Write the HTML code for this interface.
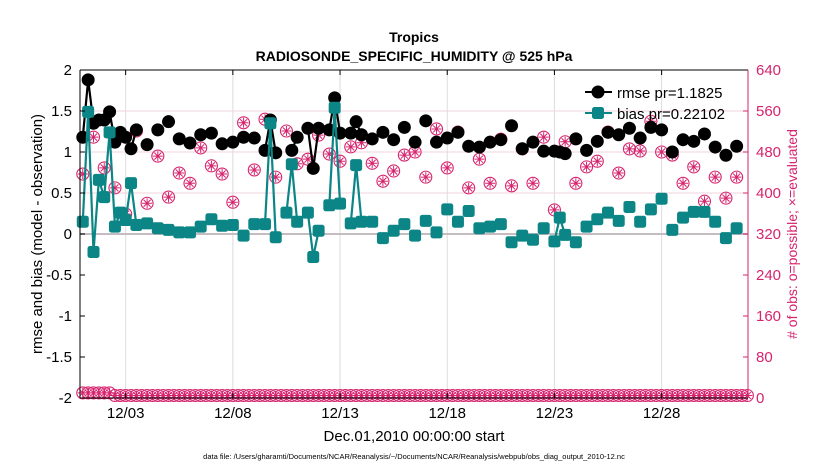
<!DOCTYPE html>
<html><head><meta charset="utf-8"><style>
body{margin:0;background:#fff;width:830px;height:470px;overflow:hidden;font-family:"Liberation Sans",Arial,sans-serif}
</style></head><body>
<svg id="chart" width="830" height="470" xmlns="http://www.w3.org/2000/svg" font-family="Liberation Sans, Arial, sans-serif">
<text x="414" y="42" text-anchor="middle" font-size="14" font-weight="bold">Tropics</text>
<text x="414" y="61" text-anchor="middle" font-size="14" font-weight="bold">RADIOSONDE_SPECIFIC_HUMIDITY @ 525 hPa</text>
<g id="grid"></g>
<g id="series"></g>
<g id="axes"></g>
<text transform="translate(42,234) rotate(-90)" text-anchor="middle" font-size="15">rmse and bias (model - observation)</text>
<text transform="translate(797,234) rotate(-90)" text-anchor="middle" font-size="14" fill="#d6246e"># of obs: o=possible; ×=evaluated</text>
<text x="414" y="441" text-anchor="middle" font-size="15">Dec.01,2010 00:00:00 start</text>
<text x="414" y="459" text-anchor="middle" font-size="7.5">data file: /Users/gharamti/Documents/NCAR/Reanalysis/~/Documents/NCAR/Reanalysis/webpub/obs_diag_output_2010-12.nc</text>
<g>
<line x1="585" y1="92" x2="612" y2="92" stroke="#000" stroke-width="2"/>
<circle cx="598" cy="92" r="6.5" fill="#000"/>
<text x="617" y="98" font-size="15">rmse pr=1.1825</text>
<line x1="585" y1="113" x2="612" y2="113" stroke="#0b8585" stroke-width="2"/>
<rect x="592" y="107" width="12" height="12" rx="2.5" fill="#0b8585"/>
<text x="617" y="119" font-size="15">bias pr=0.22102</text>
</g>
</svg>
<script>
const rmseHours=[0,6,12,18,24,30,36,42,48,54,60,72,84,96,108,120,132,144,156,168,180,192,204,210,216,234,240,252,258,264,276,282,288,300,306,312,324,336,348,360,372,384,396,408,420,432,444,456,468,480,492,504,516,528,534,540,552,564,576,588,600,612,624,636,648,660,672,684,696,708,720,732];
const rmseVals=[1.18,1.88,1.35,1.39,1.39,1.49,1.12,1.24,1.18,1.04,1.27,1.09,1.27,1.37,1.16,1.11,1.21,1.23,1.10,1.12,1.18,1.17,1.02,1.39,0.99,1.02,1.18,1.29,0.80,1.29,1.27,1.66,1.23,1.23,1.37,1.21,1.16,1.24,1.15,1.30,1.12,1.38,1.12,1.17,1.24,1.07,1.06,1.12,1.15,1.32,1.04,1.12,1.01,1.01,1.00,0.98,1.16,1.02,1.13,1.24,1.21,1.29,1.17,1.30,1.27,1.00,1.15,1.13,1.22,1.06,0.96,1.07];
const biasHours=[0,6,12,18,24,30,36,42,48,54,60,72,84,96,108,120,132,144,156,168,180,192,204,210,216,228,234,240,252,258,264,276,282,288,300,306,312,324,336,348,360,372,384,396,408,420,432,444,456,468,480,492,504,516,528,534,540,552,564,576,588,600,612,624,636,648,660,672,684,696,708,720,732];
const biasVals=[0.15,1.49,-0.22,0.66,0.45,1.24,0.09,0.26,0.17,0.62,0.11,0.13,0.07,0.05,0.02,0.02,0.09,0.18,0.10,0.11,-0.02,0.12,0.12,1.35,-0.04,0.26,0.85,0.15,0.26,-0.28,0.04,0.35,1.54,0.37,0.13,0.84,0.15,0.15,-0.05,0.04,0.12,-0.02,0.16,0.02,0.30,0.15,0.28,0.07,0.09,0.12,-0.10,-0.02,-0.07,0.07,-0.09,0.20,-0.01,-0.10,0.09,0.18,0.26,0.16,0.33,0.15,0.30,0.43,0.05,0.20,0.27,0.27,0.15,-0.05,0.07];
const obsHours=[0,12,24,36,48,60,72,84,96,108,120,132,144,156,168,180,192,204,216,228,240,252,264,276,288,300,312,324,336,348,360,372,384,396,408,420,432,444,456,468,480,492,504,516,528,540,552,564,576,588,600,612,624,636,648,660,672,684,696,708,720,732];
const obsCounts=[437,509,449,410,359,521,380,472,392,439,419,488,453,437,382,537,445,544,431,521,457,466,513,476,462,490,498,458,423,443,474,480,431,525,449,519,410,466,419,505,414,486,419,509,367,500,419,451,462,519,439,486,482,540,480,474,419,451,384,431,390,431];
const lowCounts=[6,6,6,6,6,6,1,1,1,1,1,1,1,1,1,1,1,1,1,1,1,1,1,1,1,1,1,1,1,1,1,1,1,1,1,1,1,1,1,1,1,1,1,1,1,1,1,1,1,1,1,1,1,1,1,1,1,1,1,1,1,1,1,1,1,1,1,1,1,1,1,1,1,1,1,1,1,1,1,1,1,1,1,1,1,1,1,1,1,1,1,1,1,1,1,1,1,1,1,1,1,1,1,1,1,1,1,1,1,1,1,1,1,1,1,1,1,1,1,1,1,1,1,1,1];
const yTicks=[-2,-1.5,-1,-0.5,0,0.5,1,1.5,2];
const yTickLabels=["-2","-1.5","-1","-0.5","0","0.5","1","1.5","2"];
const y2Ticks=[0,80,160,240,320,400,480,560,640];
const xTickDays=[3,8,13,18,23,28];
const xTickLabels=["12/03","12/08","12/13","12/18","12/23","12/28"];

const NS="http://www.w3.org/2000/svg";
const L=80,R=748,T=70,B=398;
const hMin=(0.87-1)*24,hMax=(32.03-1)*24;
function xs(h){return L+(h-hMin)/(hMax-hMin)*(R-L);}
function ys(v){return B-(v+2)/4*(B-T);}
function ys2(c){return B-c/640*(B-T);}
function mk(tag,attrs,parent){const e=document.createElementNS(NS,tag);for(const k in attrs)e.setAttribute(k,attrs[k]);parent.appendChild(e);return e;}
const grid=document.getElementById('grid'),ser=document.getElementById('series'),ax=document.getElementById('axes');
const PINK="#d6246e",TEAL="#0b8585";

xTickDays.forEach((d,i)=>{const x=xs((d-1)*24);
 const g=mk('line',{x1:x,y1:T,x2:x,y2:B,stroke:'#dcdcdc','stroke-width':1},grid);
 
 mk('line',{x1:x,y1:B,x2:x,y2:B-5,stroke:'#000'},ax);mk('line',{x1:x,y1:T,x2:x,y2:T+5,stroke:'#000'},ax);
 const t=mk('text',{x:x,y:B+20,'text-anchor':'middle','font-size':15},ax);t.textContent=xTickLabels[i];
 });
yTicks.forEach((v,i)=>{const y=ys(v);
 if(v>0&&v<2){const g=mk('line',{x1:L,y1:y,x2:R,y2:y,stroke:'#f2d3df','stroke-width':1},grid);}
 mk('line',{x1:L,y1:y,x2:L+5,y2:y,stroke:'#000'},ax);
 const t=mk('text',{x:L-8,y:y+5,'text-anchor':'end','font-size':15},ax);t.textContent=yTickLabels[i];
 });
y2Ticks.forEach(c=>{const y=ys2(c);
 mk('line',{x1:R,y1:y,x2:R-5,y2:y,stroke:PINK},ax);
 const t=mk('text',{x:R+8,y:y+5,'font-size':15,fill:PINK},ax);t.textContent=String(c);
 });
{const z=mk('line',{x1:L,y1:ys(0),x2:R,y2:ys(0),stroke:'#c4bcc0','stroke-width':2},grid);}
mk('line',{x1:L,y1:T,x2:R,y2:T,stroke:'#000'},ax);
mk('line',{x1:L,y1:B,x2:R,y2:B,stroke:'#000'},ax);
mk('line',{x1:L,y1:T,x2:L,y2:B,stroke:'#000'},ax);
mk('line',{x1:R,y1:T,x2:R,y2:B,stroke:PINK},ax);

function obsMarker(x,y,name){const g=mk('g',{},ser);
 
 mk('circle',{cx:x,cy:y,r:6,fill:'none',stroke:PINK,'stroke-width':1.1},g);
 const s=5,d=3.5;
 mk('path',{d:`M${x-s} ${y}H${x+s}M${x} ${y-s}V${y+s}M${x-d} ${y-d}L${x+d} ${y+d}M${x-d} ${y+d}L${x+d} ${y-d}`,stroke:PINK,'stroke-width':1},g);}
lowCounts.forEach((c,i)=>obsMarker(xs(i*6),ys2(c)-2,'obs-count-low'));
obsHours.forEach((h,i)=>obsMarker(xs(h),ys2(obsCounts[i]),'obs-count'));

function lines(hours,vals,color,name){let d='';for(let i=0;i<hours.length;i++){const x=xs(hours[i]),y=ys(vals[i]);
 d+=(i>0&&hours[i]-hours[i-1]<=6)?`L${x} ${y}`:`M${x} ${y}`;}
 const p=mk('path',{d:d,fill:'none',stroke:color,'stroke-width':2.2},ser);}
lines(rmseHours,rmseVals,'#000','rmse-line');
rmseHours.forEach((h,i)=>{const c=mk('circle',{cx:xs(h),cy:ys(rmseVals[i]),r:6.5,fill:'#000'},ser);
 });
lines(biasHours,biasVals,TEAL,'bias-line');
biasHours.forEach((h,i)=>{const r=mk('rect',{x:xs(h)-6,y:ys(biasVals[i])-6,width:12,height:12,rx:2.5,fill:TEAL},ser);
 });
</script>
</body></html>
